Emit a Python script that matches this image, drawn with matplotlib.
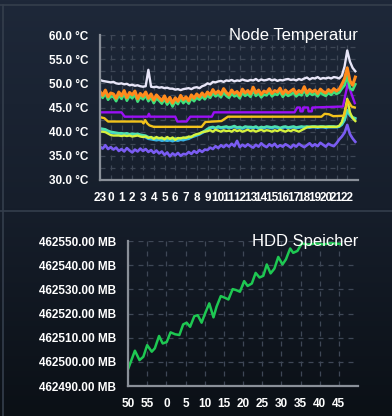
import numpy as np
import matplotlib
matplotlib.use("Agg")
import matplotlib.pyplot as plt
from matplotlib.colors import LinearSegmentedColormap
from matplotlib.lines import Line2D

plt.rcParams['font.family'] = ['Liberation Sans', 'DejaVu Sans']

# ---- Node Temperatur: noisy series sampled every 15 min over 24 h ----
hours = np.arange(0, 24, 0.25)
hour_ticks = np.arange(0, 24)
hour_labels = ["23"] + [str(h) for h in range(0, 23)]
temp_ticks = [30, 35, 40, 45, 50, 55, 60]
temp_labels = ["%.1f °C" % t for t in temp_ticks]

white = [50.7, 50.5, 50.4, 50.3, 50.2, 50.3, 50.0, 49.9,
         50.0, 49.8, 49.9, 49.6, 49.7, 49.5, 49.6, 49.4,
         49.3, 49.4, 52.8, 49.3, 49.2, 49.3, 49.1, 49.2,
         49.0, 49.1, 48.9, 48.9, 48.7, 48.8, 48.6, 48.8,
         48.9, 49.0, 48.8, 49.1, 49.2, 49.0, 49.4, 49.6,
         50.0, 49.8, 50.3, 50.2, 50.4, 50.5, 50.3, 50.6,
         50.5, 50.7, 50.4, 50.6, 50.5, 50.8, 50.6, 50.5,
         50.7, 50.6, 50.9, 50.5, 50.8, 50.6, 50.7, 50.9,
         50.6, 50.8, 50.5, 50.7, 50.6, 50.8, 50.9, 50.7,
         50.8, 50.6, 50.9, 50.7, 51.0, 51.2, 50.8, 51.1,
         51.0, 51.3, 50.9, 51.1, 51.0, 51.2, 51.0, 51.3,
         51.2, 51.0, 51.6, 53.5, 56.8, 54.5, 53.2, 52.5]

orange = [48.3, 47.5, 48.6, 47.2, 48.0, 47.8, 46.9, 48.2,
          47.4, 48.5, 47.0, 48.1, 47.6, 48.4, 46.8, 47.9,
          47.3, 48.2, 46.9, 47.8, 46.5, 47.6, 47.0, 46.4,
          47.4, 46.2, 47.1, 45.9, 47.0, 46.3, 47.5, 46.6,
          47.2, 46.4, 47.6, 46.9, 47.8, 47.2, 48.0, 47.3,
          48.2, 47.6, 48.7, 47.9, 48.4, 47.7, 48.9, 48.1,
          47.6, 48.6, 47.9, 48.3, 47.5, 48.8, 48.0, 48.5,
          47.8, 49.2, 48.0, 48.6, 47.7, 48.4, 48.1, 48.9,
          47.9, 48.5, 48.2, 49.0, 47.8, 48.6, 48.0, 48.4,
          48.8, 47.9, 48.5, 48.1, 49.3, 48.0, 48.7, 48.2,
          48.6, 47.9, 48.8, 48.3, 48.0, 48.7, 48.2, 48.9,
          48.4, 48.8, 49.8, 51.0, 53.2, 50.5, 49.6, 51.3]

green = [47.6, 47.0, 47.9, 46.6, 47.3, 47.2, 46.3, 47.5,
         46.8, 47.8, 46.4, 47.4, 46.9, 47.7, 46.2, 47.2,
         46.7, 47.5, 46.3, 47.1, 45.9, 46.9, 46.4, 45.8,
         46.7, 45.6, 46.4, 45.2, 46.3, 45.7, 46.8, 45.9,
         46.5, 45.8, 46.9, 46.3, 47.1, 46.6, 47.3, 46.7,
         47.5, 47.0, 48.0, 47.3, 47.7, 47.1, 48.2, 47.4,
         47.0, 47.9, 47.3, 47.6, 46.9, 48.1, 47.4, 47.8,
         47.2, 48.5, 47.4, 47.9, 47.1, 47.7, 47.5, 48.2,
         47.3, 47.8, 47.6, 48.3, 47.2, 47.9, 47.4, 47.7,
         48.1, 47.3, 47.8, 47.5, 48.6, 47.4, 48.0, 47.6,
         47.9, 47.3, 48.1, 47.7, 47.4, 48.0, 47.6, 48.2,
         47.8, 48.1, 48.9, 49.6, 51.5, 49.0, 48.6, 49.8]

teal = [40.7, 40.6, 40.5, 40.2, 40.0, 39.9, 39.8, 39.7,
        39.7, 39.6, 39.7, 39.5, 39.6, 39.5, 39.6, 39.4,
        39.3, 39.2, 38.9, 38.8, 38.7, 38.6, 38.7, 38.5,
        38.6, 38.5, 38.6, 38.4, 38.6, 38.5, 38.7, 38.6,
        38.8, 38.7, 39.0, 39.2, 39.4, 39.6, 39.9, 40.2,
        40.6, 40.9, 41.0, 40.8, 41.1, 40.9, 41.0, 41.1,
        40.9, 41.0, 41.2, 40.9, 41.0, 40.8, 41.1, 41.0,
        41.0, 40.9, 41.1, 40.8, 41.0, 40.9, 41.1, 41.0,
        40.9, 41.1, 41.0, 40.8, 41.0, 41.1, 40.9, 41.0,
        41.1, 40.9, 41.0, 41.1, 41.0, 41.1, 41.0, 41.1,
        41.1, 41.0, 41.1, 41.1, 41.0, 41.1, 41.1, 41.1,
        41.0, 41.1, 41.5, 42.5, 44.5, 43.5, 43.0, 42.8]

cyan = [40.5, 40.4, 40.3, 40.0, 39.8, 39.7, 39.6, 39.5,
        39.5, 39.4, 39.5, 39.3, 39.4, 39.3, 39.4, 39.2,
        39.0, 38.8, 38.5, 38.4, 38.3, 38.2, 38.3, 38.1,
        38.2, 38.1, 38.2, 38.0, 38.2, 38.1, 38.3, 38.2,
        38.4, 38.5, 38.8, 39.0, 39.2, 39.4, 39.7, 40.0,
        40.4, 40.7, 40.8, 40.6, 40.9, 40.7, 40.8, 40.9,
        40.7, 40.8, 41.0, 40.7, 40.8, 40.6, 40.9, 40.8,
        40.8, 40.7, 40.9, 40.6, 40.8, 40.7, 40.9, 40.8,
        40.7, 40.9, 40.8, 40.6, 40.8, 40.9, 40.7, 40.8,
        40.9, 40.7, 40.8, 40.9, 40.8, 40.9, 40.8, 40.9,
        40.9, 40.8, 40.9, 40.9, 40.8, 40.9, 40.9, 40.9,
        40.9, 41.0, 41.4, 42.3, 44.2, 43.3, 42.8, 42.6]

yellow = [40.0, 40.0, 39.9, 39.6, 39.3, 39.2, 39.2, 39.2,
          39.1, 39.2, 39.1, 39.2, 39.0, 39.1, 39.2, 39.0,
          38.9, 39.0, 38.7, 38.9, 38.5, 38.9, 38.6, 38.8,
          38.4, 38.9, 38.5, 38.8, 38.3, 38.7, 38.6, 38.8,
          38.7, 39.0, 38.9, 39.3, 39.5, 39.6, 39.9, 40.0,
          40.1, 40.3, 40.0, 40.4, 40.2, 40.0, 40.3, 40.1,
          40.2, 40.0, 40.4, 40.1, 40.3, 40.0, 40.2, 40.4,
          40.1, 40.3, 40.0, 40.2, 40.4, 40.1, 40.3, 40.2,
          40.0, 40.3, 40.1, 40.4, 40.2, 40.0, 40.3, 40.1,
          40.4, 40.2, 40.0, 40.3, 40.6, 40.9, 41.0, 41.0,
          41.0, 41.0, 41.0, 41.0, 41.0, 41.0, 41.0, 41.0,
          41.0, 41.2, 42.0, 44.0, 46.8, 44.0, 42.8, 42.2]

violet = [36.9, 36.5, 37.2, 36.4, 36.8, 36.3, 36.7, 36.0,
          36.4, 35.9, 36.6, 36.1, 35.7, 36.3, 35.9, 36.5,
          36.0, 36.4, 35.8, 36.2, 35.6, 36.1, 35.5, 35.9,
          35.2, 35.7, 34.9, 35.5, 35.1, 35.6, 35.0, 35.4,
          35.3, 35.8, 35.4, 36.0, 35.6, 36.2, 35.8, 36.3,
          36.2, 36.7, 36.4, 37.0, 36.6, 37.2, 36.8, 37.3,
          36.9, 37.5, 37.0, 38.1, 36.8, 37.3, 36.9, 37.4,
          37.0, 36.7, 37.3, 36.9, 37.6, 37.1, 36.8, 37.4,
          37.0, 37.5, 36.8, 37.2, 36.9, 37.4, 37.1, 36.7,
          37.3, 36.9, 37.5, 37.1, 36.8, 37.2, 37.6, 37.0,
          37.4, 37.0, 37.7, 37.3, 36.9, 37.5, 37.2, 37.0,
          37.6, 38.4, 39.0, 39.8, 41.4, 39.5, 38.6, 37.9]

# step-like sensors (only change points)
purple_h = [0, 2.0, 2.3, 4.45, 4.55, 4.65, 7.0, 7.2, 8.05, 8.4, 10.4, 10.6, 18.1,
            18.35, 18.6, 18.65, 18.85, 18.9, 19.35, 19.4, 19.7, 19.75, 22.6, 23.05, 23.7]
purple_v = [44, 44, 43.1, 43.1, 43.7, 43.1, 43.1, 42.1, 42.1, 43.1, 43.1, 44, 44,
            45, 45, 44.2, 44.2, 45, 45, 44.2, 44.2, 45, 45.2, 50, 45.9]
gold_h = [0, 0.4, 0.75, 3.9, 4.05, 4.2, 4.4, 4.6, 5.0, 9.45, 9.8, 11.3, 11.9,
          20.6, 20.9, 21.3, 21.7, 22.7, 23.05, 23.4, 23.7]
gold_v = [43.0, 42.8, 42.1, 42.1, 41.7, 42.4, 41.7, 41.3, 41.0, 41.0, 42.0, 42.2, 43.1,
          43.1, 43.7, 43.6, 43.2, 43.3, 46.5, 45.2, 45.0]

# ---- HDD Speicher ----
hdd_min = [0, 1.8, 3.0, 4.0, 5.0, 6.2, 7.0, 8.1, 9.05, 10.1, 11.1, 12.3, 13.4, 14.4,
           15.3, 16.2, 17.3, 18.2, 19.2, 20.1, 21.2, 22.3, 23.1, 24.2, 25.3, 26.2,
           27.3, 28.2, 29.2, 30.3, 31.2, 32.3, 33.3, 34.3, 35.3, 36.2, 37.2, 38.2,
           39.2, 40.3, 41.2, 42.3, 43.1, 44.2, 45.3, 47.0, 49.0, 51.0, 53.0, 55.3]
hdd_mb = [462496.9, 462504.6, 462500.7, 462502.1, 462506.9, 462504.2, 462505.6,
          462510.7, 462507.6, 462508.2, 462512.2, 462511.4, 462511.1, 462515.5,
          462516.2, 462514.5, 462518.9, 462519.3, 462516.2, 462520.0, 462524.2,
          462518.4, 462522.8, 462527.2, 462526.5, 462525.8, 462530.1, 462529.7,
          462529.0, 462533.4, 462531.4, 462532.4, 462536.8, 462534.9, 462535.6,
          462540.3, 462536.6, 462538.6, 462543.4, 462540.3, 462542.4, 462546.9,
          462545.1, 462545.9, 462549.0, 462548.5, 462549.0, 462548.6, 462549.1, 462548.8]
min_ticks = np.arange(0, 60, 5)
min_labels = ["50", "55", "0", "5", "10", "15", "20", "25", "30", "35", "40", "45"]
mb_ticks = [462490, 462500, 462510, 462520, 462530, 462540, 462550]
mb_labels = ["%.2f MB" % v for v in mb_ticks]

fig = plt.figure(figsize=(3.92, 4.16), dpi=100)

# background gradient + panel borders
bg = fig.add_axes([0, 0, 1, 1], zorder=-10)
cmap = LinearSegmentedColormap.from_list("bg", ["#1e2839", "#161e2b", "#0b1016"])
bg.imshow(np.linspace(0, 1, 256).reshape(-1, 1), aspect='auto', cmap=cmap,
          extent=[0, 1, 0, 1])
bg.set_xlim(0, 1)
bg.set_ylim(0, 1)
bg.axis('off')
for yy in [1 - 4.5 / 416, 1 - 210.5 / 416]:
    fig.add_artist(Line2D([0, 1], [yy, yy], color="#343e4c", lw=1.2))
fig.add_artist(Line2D([2.5 / 392, 2.5 / 392], [0, 1 - 4.5 / 416], color="#343e4c", lw=1.2))

grid_kw = dict(color="#3e4756", lw=0.9, ls=(0, (4, 4)))


def style_axes(ax):
    ax.set_facecolor("none")
    for s in ["top", "right"]:
        ax.spines[s].set_visible(False)
    for s in ["left", "bottom"]:
        ax.spines[s].set_color("#8a9099")
        ax.spines[s].set_linewidth(1.6)
    ax.tick_params(length=0, pad=8.5, labelcolor="white", labelsize=8.5)
    for lab in ax.get_xticklabels() + ax.get_yticklabels():
        lab.set_fontweight("bold")


# top chart
ax1 = fig.add_axes([100 / 392, 1 - 180 / 416, 258 / 392, 145 / 416])
ax1.plot(hours, cyan, color="#38b4e6", lw=1.7)
ax1.plot(hours, teal, color="#4ee0b0", lw=1.7)
ax1.plot(hours, yellow, color="#d6f23e", lw=1.7)
ax1.plot(hours, violet, color="#7a5cf2", lw=1.9)
ax1.plot(gold_h, gold_v, color="#f2c21c", lw=1.7)
ax1.plot(purple_h, purple_v, color="#9a10f5", lw=1.7)
ax1.plot(hours, green, color="#3fe07c", lw=1.9)
ax1.plot(hours, orange, color="#ff8a1c", lw=2.2)
ax1.plot(hours, white, color="#e8e6f8", lw=1.7)
ax1.set_xlim(0, 24)
ax1.set_ylim(30, 60)
ax1.set_xticks(hour_ticks)
ax1.set_xticklabels(hour_labels)
ax1.set_yticks(temp_ticks)
ax1.set_yticklabels(temp_labels)
ax1.set_yticks(np.arange(30, 60.1, 2.5), minor=True)
ax1.tick_params(which="minor", length=0)
ax1.grid(True, which="both", **grid_kw)
style_axes(ax1)
fig.text(358 / 392, 1 - 40 / 416, "Node Temperatur", color="white", fontsize=12,
         ha="right", va="baseline")

# bottom chart
ax2 = fig.add_axes([128 / 392, 1 - 386 / 416, 230 / 392, 145 / 416])
ax2.plot(hdd_min, hdd_mb, color="#1ec852", lw=1.8)
ax2.set_xlim(0, 60)
ax2.set_ylim(462490, 462550)
ax2.set_xticks(min_ticks)
ax2.set_xticklabels(min_labels)
ax2.set_yticks(mb_ticks)
ax2.set_yticklabels(mb_labels)
ax2.grid(True, **grid_kw)
style_axes(ax2)
fig.text(358 / 392, 1 - 246 / 416, "HDD Speicher", color="white", fontsize=12,
         ha="right", va="baseline")

fig.savefig("out.png", dpi=100)
